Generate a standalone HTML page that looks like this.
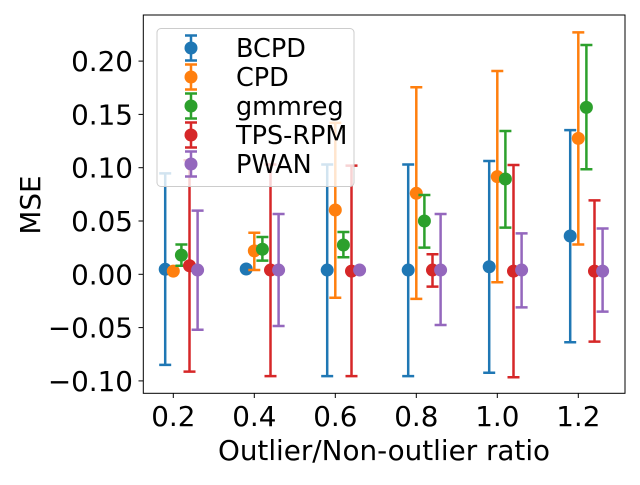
<!DOCTYPE html>
<html><head><meta charset="utf-8"><style>
body{margin:0;background:#fff}
svg text{font-family:"DejaVu Sans","Liberation Sans",sans-serif;fill:#000}
</style></head><body>
<svg id="chart" width="640" height="480" xmlns="http://www.w3.org/2000/svg">
<g id="marks"></g>
<g id="axes"></g>
</svg>
<script>
const categories=[0.2,0.4,0.6,0.8,1.0,1.2];
const seriesNames=["BCPD","CPD","gmmreg","TPS-RPM","PWAN"];
const colors=["#1f77b4","#ff7f0e","#2ca02c","#d62728","#9467bd"];
const offsets=[-0.02,0,0.02,0.04,0.06];
const bcpdValues=[0.0047,0.005,0.004,0.004,0.0071,0.0359];
const bcpdLower=[-0.085,0.004,-0.0955,-0.0955,-0.0923,-0.0638];
const bcpdUpper=[0.0947,0.006,0.103,0.103,0.1063,0.1353];
const cpdValues=[0.003,0.022,0.0603,0.076,0.0916,0.1275];
const cpdLower=[0.002,0.004,-0.022,-0.023,-0.0075,0.028];
const cpdUpper=[0.004,0.039,0.142,0.1755,0.1907,0.227];
const gmmValues=[0.018,0.0235,0.0275,0.050,0.0894,0.1566];
const gmmLower=[0.008,0.0128,0.016,0.025,0.0438,0.0985];
const gmmUpper=[0.028,0.035,0.0397,0.0744,0.1344,0.2151];
const tpsValues=[0.008,0.004,0.003,0.004,0.003,0.003];
const tpsLower=[-0.0913,-0.0955,-0.0955,-0.0116,-0.0966,-0.0632];
const tpsUpper=[0.107,0.103,0.102,0.0188,0.1025,0.0694];
const pwanValues=[0.004,0.004,0.004,0.004,0.004,0.003];
const pwanLower=[-0.052,-0.0485,0.003,-0.0476,-0.031,-0.035];
const pwanUpper=[0.0597,0.0566,0.005,0.0566,0.0384,0.043];
const xTicks=["0.2","0.4","0.6","0.8","1.0","1.2"];
const yTicks=["−0.10","−0.05","0.00","0.05","0.10","0.15","0.20"];
const yTickVals=[-0.10,-0.05,0,0.05,0.10,0.15,0.20];

const series=[[bcpdValues,bcpdLower,bcpdUpper],[cpdValues,cpdLower,cpdUpper],[gmmValues,gmmLower,gmmUpper],[tpsValues,tpsLower,tpsUpper],[pwanValues,pwanLower,pwanUpper]];
const X=v=>173.3+(v-0.2)*405;
const Y=v=>274.3-v*1066;
const NS="http://www.w3.org/2000/svg";
function mk(tag,attrs,parent){const e=document.createElementNS(NS,tag);for(const k in attrs)e.setAttribute(k,attrs[k]);parent.appendChild(e);return e;}
const marks=document.getElementById('marks'),axes=document.getElementById('axes');
series.forEach((s,si)=>{
  const g=mk('g',{},marks);
  
  
  categories.forEach((c,i)=>{
    const x=X(c+offsets[si]),lo=Y(s[1][i]),hi=Y(s[2][i]);
    const eb=mk('path',{d:`M${x},${lo}V${hi}M${x-6},${lo}H${x+6}M${x-6},${hi}H${x+6}`,stroke:colors[si],'stroke-width':2.5,fill:'none'},g);
    
    
    const p=mk('circle',{cx:x,cy:Y(s[0][i]),r:6.5,fill:colors[si]},g);
    
    
  });
});
const fr=mk('rect',{x:143.3,y:15,width:481.7,height:378.3,fill:'none',stroke:'#000','stroke-width':1},axes);


categories.forEach((c,i)=>{
  const x=X(c);
  mk('line',{x1:x,x2:x,y1:393.3,y2:398,stroke:'#000'},axes);
  const t=mk('text',{x:x,y:426,'font-size':27.8,'text-anchor':'middle'},axes);
  t.textContent=xTicks[i];
  
  
});
yTickVals.forEach((v,i)=>{
  const y=Y(v);
  mk('line',{x1:138.5,x2:143.3,y1:y,y2:y,stroke:'#000'},axes);
  const t=mk('text',{x:133,y:y+10,'font-size':27.8,'text-anchor':'end'},axes);
  t.textContent=yTicks[i];
  
  
});
const xl=mk('text',{x:384,y:460,'font-size':27.8,'text-anchor':'middle'},axes);
xl.textContent='Outlier/Non-outlier ratio';


const yl=mk('text',{x:40,y:205,'font-size':27.8,'text-anchor':'middle',transform:'rotate(-90 40 205)'},axes);
yl.textContent='MSE';


const lg=mk('g',{},axes);


mk('rect',{x:157,y:28.5,width:197,height:158,rx:4,fill:'#fff','fill-opacity':0.8,stroke:'#ccc'},lg);
seriesNames.forEach((n,i)=>{
  const y=48+i*29;
  const e=mk('g',{},lg);
  
  
  mk('path',{d:`M191,${y-12.5}V${y+12.5}M185,${y-12.5}H197M185,${y+12.5}H197`,stroke:colors[i],'stroke-width':2.5},e);
  mk('circle',{cx:191,cy:y,r:6.5,fill:colors[i]},e);
  const t=mk('text',{x:236,y:y+9,'font-size':25.5},e);
  t.textContent=n;
});
</script>
</body></html>
